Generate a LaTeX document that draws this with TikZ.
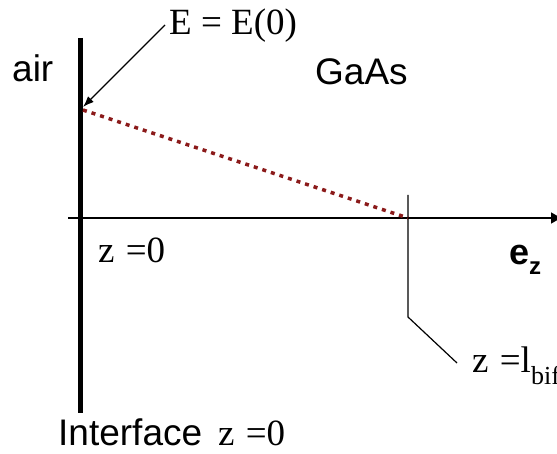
\documentclass[tikz,border=0pt]{standalone}
\usepackage{fontspec}
\setmainfont{Liberation Serif}
\setsansfont{Liberation Sans}
\usetikzlibrary{arrows.meta}
\definecolor{dotred}{RGB}{139,26,26}
\begin{document}
\begin{tikzpicture}[x=1pt,y=-1pt,
  sanslbl/.style={font=\sffamily\fontsize{37}{40}\selectfont, inner sep=0pt, anchor=base west},
  seriflbl/.style={font=\rmfamily\fontsize{37}{40}\selectfont, inner sep=0pt, anchor=base west},
  thinline/.style={line width=1.2pt, black},
  axisline/.style={line width=1.5pt, black, -{Triangle[length=10pt,width=11pt]}},
  wall/.style={line width=5pt, black},
  fieldline/.style={line width=3.5pt, dotred, dash pattern=on 4pt off 5pt}]
\useasboundingbox (0,0) rectangle (557,454);
% coordinates
\coordinate (wallTop) at (80.5,38);
\coordinate (wallBot) at (80.5,413);
\coordinate (axStart) at (68,218);
\coordinate (axEnd) at (561,218);
\coordinate (tickTop) at (408,195);
\coordinate (tickBot) at (408,317);
\coordinate (tickLead) at (457,363);
\coordinate (eField) at (83,110);
\coordinate (lbif) at (408,218);
\coordinate (eArrowStart) at (165,25);
\coordinate (eArrowEnd) at (83,107);
% shapes
\draw[wall] (wallTop) -- (wallBot);
\draw[axisline] (axStart) -- (axEnd);
\draw[thinline] (tickTop) -- (tickBot) -- (tickLead);
\draw[fieldline] (eField) -- (lbif);
\draw[thinline, -{Latex[length=11pt,width=8pt]}] (eArrowStart) -- (eArrowEnd);
% labels
\node[seriflbl] (elabel) at (169,35) {E = E(0)};
\node[sanslbl] (air) at (12,82) {air};
\node[sanslbl] (gaas) at (315,85) {GaAs};
\node[seriflbl] (zzero) at (98,263) {z\hspace{2pt} =0};
\node[sanslbl, font=\sffamily\bfseries\fontsize{36}{40}\selectfont] (ez) at (509,265) {e\raisebox{-10pt}{\fontsize{24}{24}\selectfont z}};
\node[seriflbl] (zl) at (472,373) {z\hspace{2pt} =l\raisebox{-12pt}{\fontsize{26}{26}\selectfont bif}};
\node[sanslbl] (iface) at (58,445) {Interface\hspace{16pt}\rmfamily z\hspace{2pt} =0};
\end{tikzpicture}
\end{document}
